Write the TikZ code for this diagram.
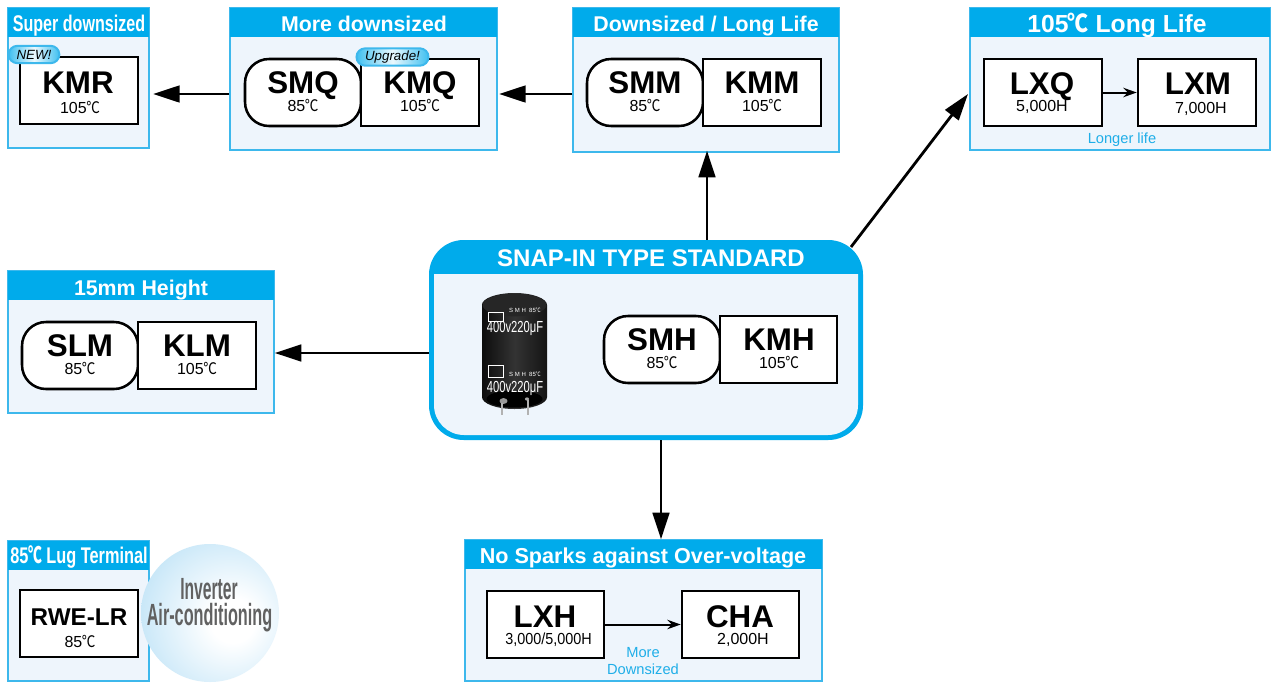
\documentclass[tikz,border=0pt]{standalone}
\usepackage{fontspec}
\setmainfont{Liberation Sans}
\newfontfamily\cjkf{Noto Sans CJK JP}
\usetikzlibrary{fit,shadings,arrows.meta}
\definecolor{cyanh}{HTML}{00ABEB}
\definecolor{panelbg}{HTML}{EEF5FC}
\definecolor{panelln}{HTML}{3DB8EC}
\definecolor{lbl}{HTML}{1FAEE8}
\definecolor{sphA}{rgb}{0.84,0.93,0.98}
\definecolor{sphB}{rgb}{0.68,0.86,0.955}
\definecolor{sphC}{rgb}{0.55,0.80,0.93}
\newcommand{\degc}{\kern-0.03em\scalebox{0.85}[1]{\cjkf ℃}}
\newcommand{\fpx}[1]{\fontsize{#1}{#1}\selectfont}
\pgfdeclareradialshading{sphereshade}{\pgfpoint{9bp}{-3bp}}{%
 color(0bp)=(white);color(8bp)=(white);
 color(26bp)=(sphA);
 color(43bp)=(sphB);
 color(60bp)=(sphC);
 color(100bp)=(sphC)}
\tikzset{
 x=0.75pt,y=-0.75pt,
 panel/.style={fit={#1},inner sep=0pt,draw=panelln,line width=1.1pt,fill=panelbg},
 hdr/.style={fit={#1},inner sep=0pt,fill=cyanh},
 title/.style={text=white,font=\fpx{16}\bfseries,inner sep=0pt,anchor=base},
 sq/.style={draw=black,line width=1.9pt,fill=white,inner sep=0pt,fit={#1}},
 rnd/.style={draw=black,line width=1.9pt,fill=white,inner sep=0pt,fit={#1},rounded corners=18pt},
 bigt/.style={font=\fpx{23.5}\bfseries,inner sep=0pt,anchor=base},
 smallt/.style={font=\fpx{12},inner sep=0pt,anchor=base},
 bigarrow/.style={line width=2.1pt,-{Triangle[length=20pt,width=12.5pt]}},
 smallarrow/.style={line width=1.5pt,-{Stealth[length=10pt,width=7pt]}},
 bluet/.style={text=lbl,font=\fpx{11},inner sep=0pt,anchor=base},
 badge/.style={rounded corners=6.5pt,draw=panelln,line width=1.5pt,left color=cyanh!75,right color=cyanh!75,middle color=cyanh!8,inner sep=0pt,minimum height=13pt,font=\fpx{10}\itshape},
 captext/.style={text=white,inner sep=0pt},
 sphtext/.style={inner sep=0pt,text=black!62,font=\fpx{23}\bfseries,anchor=base},
}
\begin{document}
\begin{tikzpicture}
\useasboundingbox (0,0) rectangle (1271,682);
\fill[white] (0,0) rectangle (1271,682);
% panels
\node[panel={(8,8)(149,148)}] (pKMR) {};
\node[hdr={(8,8)(149,37)}] (hKMR) {};
\node[title] at (79,31) {\scalebox{0.71}[1]{\fpx{17}\bfseries Super downsized}};

\node[panel={(230,8)(497,150)}] (pMore) {};
\node[hdr={(230,8)(497,37)}] (hMore) {};
\node[title] at (364,31) {More downsized};

\node[panel={(573,8)(839,152)}] (pDown) {};
\node[hdr={(573,8)(839,37)}] (hDown) {};
\node[title] at (706,31) {Downsized / Long Life};

\node[panel={(970,8)(1270,150)}] (pLong) {};
\node[hdr={(970,8)(1270,37)}] (hLong) {};
\node[title,font=\fpx{18.5}\bfseries] at (1117,32) {105\degc{} Long Life};

\node[panel={(8,271)(274,413)}] (pSLM) {};
\node[hdr={(8,271)(274,300)}] (hSLM) {};
\node[title] at (141,295) {15mm Height};

\node[panel={(8,541)(149,681)}] (pLug) {};
\node[hdr={(8,541)(149,570)}] (hLug) {};
\node[title] at (79,563) {\scalebox{0.72}[1]{\fpx{17}\bfseries 85\degc{} Lug Terminal}};

\node[panel={(465,540)(822,681)}] (pSpark) {};
\node[hdr={(465,540)(822,569)}] (hSpark) {};
\node[title,font=\fpx{16.2}\bfseries] at (643,563) {No Sparks against Over-voltage};

% central panel
\node[fit={(429,240)(863,440)},inner sep=0pt,fill=cyanh,rounded corners=26pt] (pMain) {};
\fill[panelbg] (434,274) -- (858,274) -- (858,405) arc[start angle=0,end angle=-90,radius=22.5pt] -- (464,435) arc[start angle=270,end angle=180,radius=22.5pt] -- cycle;
\node[title,font=\fpx{18}\bfseries] at (651,266) {SNAP-IN TYPE STANDARD};

% capacitor
\shade[left color=black!95,right color=black!92,middle color=black!80] (482,305) -- (482,397) arc[start angle=180,end angle=360,x radius=24.4pt,y radius=9pt] -- (547,305) arc[start angle=0,end angle=180,x radius=24.4pt,y radius=9pt] -- cycle;
\fill[black!85] (514.5,305) ellipse[x radius=24pt,y radius=8.5pt];
\fill[black] (514.5,399) ellipse[x radius=21pt,y radius=6.5pt];
\fill[gray!80] (503.5,401) ellipse[x radius=3pt,y radius=2.2pt];
\fill[gray!70] (527,399) ellipse[x radius=1.6pt,y radius=1.2pt];
\fill[gray!60] (500.5,403) rectangle (502.5,415);
\fill[gray!60] (526.5,400) rectangle (528.5,415);
\node[captext,font=\fpx{12}] at (515,328) {\scalebox{0.7}[1]{400v220μF}};
\node[captext,font=\fpx{12}] at (515,388) {\scalebox{0.7}[1]{400v220μF}};
\node[captext,font=\fpx{4.5}] at (525,310) {S M H\ \ 85\degc};
\node[captext,font=\fpx{4.5}] at (525,374) {S M H\ \ 85\degc};
\draw[white,line width=0.5pt] (488.5,312) rectangle (503,321);
\draw[white,line width=0.5pt] (488.5,365) rectangle (503,377);

% sphere
\shade[shading=sphereshade] (210,613) circle[radius=69];
\node[sphtext] (inv) at (209,599) {\scalebox{0.51}[1]{Inverter}};
\node[sphtext] (air) at (209.5,625) {\scalebox{0.53}[1]{Air-conditioning}};

% boxes
\node[sq={(20,57)(138,124)}] (KMR) {};
\node[bigt] at (78,93) {KMR};
\node[smallt] at (80,113) {105\degc};

\node[rnd={(245,59)(361,126)}] (SMQ) {};
\node[sq={(361,59)(479,126)}] (KMQ) {};
\node[bigt] at (303,93) {SMQ};
\node[smallt] at (303,111) {85\degc};
\node[bigt] at (420,93) {KMQ};
\node[smallt] at (420,111) {105\degc};

\node[rnd={(587,59)(703,126)}] (SMM) {};
\node[sq={(703,59)(821,126)}] (KMM) {};
\node[bigt] at (645,93) {SMM};
\node[smallt] at (645,111) {85\degc};
\node[bigt] at (762,93) {KMM};
\node[smallt] at (762,111) {105\degc};

\node[sq={(984,59)(1102,126)}] (LXQ) {};
\node[sq={(1138,59)(1256,126)}] (LXM) {};
\node[bigt] at (1042,94) {LXQ};
\node[smallt] at (1042,111) {5,000H};
\node[bigt] at (1198,94) {LXM};
\node[smallt] at (1201,113) {7,000H};
\node[bluet] at (1122,143) {Longer life};

\node[rnd={(22,322)(138,389)}] (SLM) {};
\node[sq={(138,322)(256,389)}] (KLM) {};
\node[bigt] at (80,356) {SLM};
\node[smallt] at (80,374) {85\degc};
\node[bigt] at (197,356) {KLM};
\node[smallt] at (197,374) {105\degc};

\node[rnd={(604,316)(720,383)}] (SMH) {};
\node[sq={(720,316)(837,383)}] (KMH) {};
\node[bigt] at (662,350) {SMH};
\node[smallt] at (662,368) {85\degc};
\node[bigt] at (779,350) {KMH};
\node[smallt] at (779,368) {105\degc};

\node[sq={(20,590)(138,657)}] (RWE) {};
\node[inner sep=0pt,font=\fpx{18.2}\bfseries,anchor=base] at (79,625) {RWE-LR};
\node[smallt] at (80,647) {85\degc};

\node[sq={(487,591)(604,658)}] (LXH) {};
\node[sq={(682,591)(799,658)}] (CHA) {};
\node[bigt] at (545,627) {LXH};
\node[smallt] at (548.5,644) {\scalebox{0.9}[1]{3,000/5,000H}};
\node[bigt] at (740,627) {CHA};
\node[smallt] at (743,644) {2,000H};
\node[bluet] at (643,657) {More};
\node[bluet] at (643,674) {Downsized};

% badges
\node[badge,minimum width=38pt] (bNew) at (34,54.5) {NEW!};
\node[badge,minimum width=54pt] (bUp) at (392.5,57) {Upgrade!};

% connectors
\coordinate (r1) at (0,94);
\coordinate (r2) at (0,353);
\draw[bigarrow] (pMore.west |- r1) -- ([xshift=2.5pt]pKMR.east |- r1);
\draw[bigarrow] (pDown.west |- r1) -- ([xshift=1pt]pMore.east |- r1);
\coordinate (c1) at (707,0);
\coordinate (c2) at (661,0);
\coordinate (m1) at (851,247);
\coordinate (t1) at (968,94);
\draw[bigarrow] (pMain.north -| c1) -- ([yshift=1.5pt]pDown.south -| c1);
\draw[bigarrow] (m1) -- (t1);
\draw[bigarrow] (pMain.west |- r2) -- (pSLM.east |- r2);
\draw[bigarrow] (pMain.south -| c2) -- (pSpark.north -| c2);
\draw[smallarrow] (LXQ.east) -- (LXM.west);
\draw[smallarrow] (LXH.east) -- (CHA.west);
\end{tikzpicture}
\end{document}
